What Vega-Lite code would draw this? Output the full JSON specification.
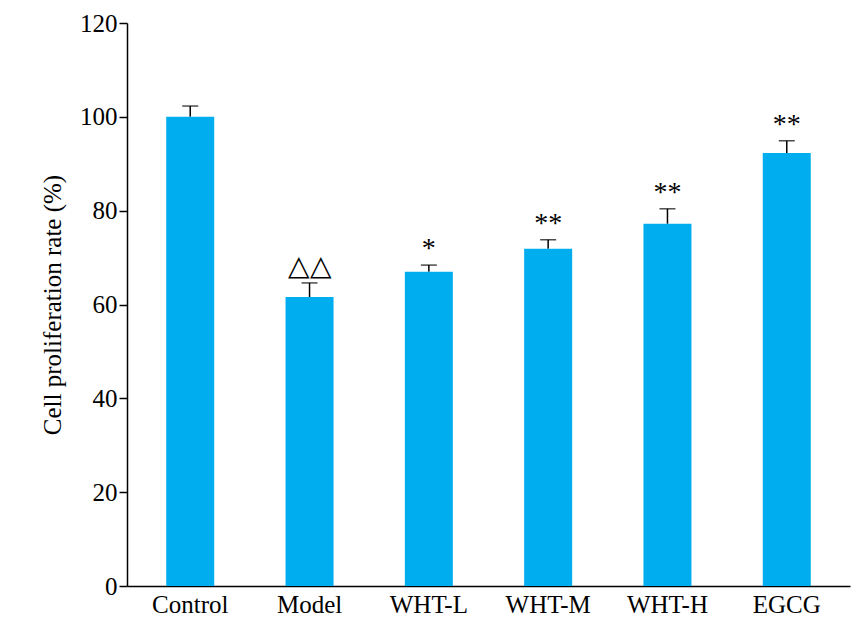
{
  "$schema": "https://vega.github.io/schema/vega-lite/v6.json",
  "autosize": "none",
  "width": 723,
  "height": 563,
  "padding": {"left": 127, "top": 23, "right": 8, "bottom": 45},
  "background": "white",
  "data": {
    "values": [
      {"group": "Control", "value": 100.0, "err": 102.3, "sig": ""},
      {"group": "Model", "value": 61.6, "err": 64.6, "sig": "△△"},
      {"group": "WHT-L", "value": 67.0, "err": 68.4, "sig": "*"},
      {"group": "WHT-M", "value": 71.9, "err": 73.8, "sig": "**"},
      {"group": "WHT-H", "value": 77.2, "err": 80.4, "sig": "**"},
      {"group": "EGCG", "value": 92.3, "err": 94.9, "sig": "**"}
    ]
  },
  "encoding": {
    "x": {
      "field": "group", "type": "nominal", "sort": null, "title": null,
      "scale": {"paddingInner": 0, "paddingOuter": 0.03},
      "axis": {"labelAngle": 0, "labelFont": "Liberation Serif", "labelFontSize": 25, "labelColor": "black", "ticks": false, "domainColor": "black", "domainWidth": 1.5, "labelPadding": 6}
    }
  },
  "layer": [
    {
      "mark": {"type": "rule", "color": "black", "strokeWidth": 1.5},
      "encoding": {"y": {"field": "value", "type": "quantitative"}, "y2": {"field": "err"}}
    },
    {
      "mark": {"type": "tick", "color": "black", "thickness": 1.5, "size": 16, "orient": "horizontal"},
      "encoding": {"y": {"field": "err", "type": "quantitative"}}
    },
    {
      "mark": {"type": "bar", "color": "#00aeef", "size": 48},
      "encoding": {
        "y": {
          "field": "value", "type": "quantitative", "title": "Cell proliferation rate (%)",
          "scale": {"domain": [0, 120]},
          "axis": {"values": [0, 20, 40, 60, 80, 100, 120], "grid": false, "labelFont": "Liberation Serif", "labelFontSize": 25, "labelColor": "black", "titleFont": "Liberation Serif", "titleFontSize": 25, "titleFontWeight": "normal", "titleColor": "black", "domainColor": "black", "domainWidth": 1.5, "tickColor": "black", "tickWidth": 1.5, "tickSize": 8, "titlePadding": 14}
        }
      }
    },
    {
      "mark": {"type": "text", "font": "Liberation Serif", "fontSize": 28, "baseline": "bottom", "dy": -2, "color": "black"},
      "encoding": {"y": {"field": "err", "type": "quantitative"}, "text": {"field": "sig"}}
    }
  ],
  "config": {"view": {"stroke": null}}
}
